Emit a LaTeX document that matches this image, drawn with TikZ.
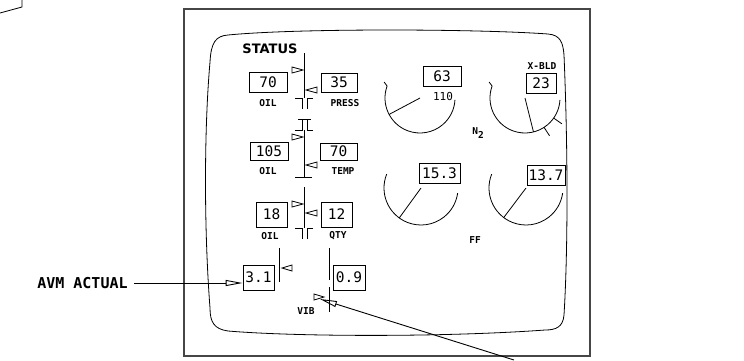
\documentclass[tikz,border=0pt]{standalone}
\usepackage{fontspec}
\setmainfont{DejaVu Sans Mono}
\newfontfamily\hdfont{DejaVu Sans}
\usetikzlibrary{arrows.meta,calc,positioning}
\definecolor{framegray}{RGB}{70,70,70}

\begin{document}
\begin{tikzpicture}[x=1pt, y=-1pt, line width=0.8pt,
  font=\fontsize{10}{10}\selectfont,
  numbox/.style={draw, inner sep=0pt, font=\fontsize{14.5}{14.5}\selectfont},
  lbl/.style={inner sep=1pt, font=\bfseries\fontsize{9.5}{10}\selectfont},
  lead/.style={-{Triangle[open, length=17pt, width=6pt]}, line width=0.9pt}]
\useasboundingbox (0,0) rectangle (744,360);
\draw (0,13) -- (22,7) -- (22,0);
% frame and screen
\draw[framegray, line width=1.2pt] (184,9) rectangle (590,356);
\draw (210,62) .. controls (211,42) and (216,36) .. (228,35)
  .. controls (300,28) and (480,29) .. (548,34)
  .. controls (560,35) and (563,42) .. (564,55)
  .. controls (568,150) and (568,250) .. (564,315)
  .. controls (563,327) and (556,330) .. (545,330)
  .. controls (450,337) and (300,337) .. (228,331)
  .. controls (214,329) and (210,322) .. (210,308)
  .. controls (204,230) and (204,130) .. (210,62);

% status column
\node[inner sep=0pt, font=\hdfont\bfseries\fontsize{13}{13}\selectfont] (status) at (270,49) {STATUS};
\draw (304,53) -- (304,98);
\draw (304,130) -- (304,177) (295,177) -- (312,177);
\draw (304,187) -- (304,228);
\foreach \y in {98,228}
  \draw (295,\y) -- (302,\y) -- (302,\y+11) (313,\y) -- (307,\y) -- (307,\y+11);
\draw (298,119) -- (311,119) (295,130) -- (302,130) -- (302,119) (313,130) -- (307,130) -- (307,119);
\foreach \y in {70,137,204}
  \draw (303,\y) -- ++(-11,-3) -- ++(0,6) -- cycle;
\foreach \y in {90,165,213}
  \draw (306,\y) -- ++(11,-3) -- ++(0,6) -- cycle;

\node[numbox, minimum width=38, minimum height=20] (oilpv) at (268,82) {70};
\node[numbox, minimum width=36, minimum height=19] (pressv) at (339,82.5) {35};
\node[lbl] (oilp) at (268,103) {OIL};
\node[lbl] (press) at (345,103) {PRESS};
\node[numbox, minimum width=38, minimum height=18] (oiltv) at (269,151) {105};
\node[numbox, minimum width=37, minimum height=17] (tempv) at (338.5,151.5) {70};
\node[lbl] (oilt) at (268,171) {OIL};
\node[lbl] (temp) at (343,171) {TEMP};
\node[numbox, minimum width=31, minimum height=25] (oilqv) at (271.5,214.5) {18};
\node[numbox, minimum width=31, minimum height=25] (qtyv) at (336.5,214.5) {12};
\node[lbl] (oilq) at (270,236) {OIL};
\node[lbl] (qty) at (338,236) {QTY};

% vibration
\draw (279,248) -- (279,282);
\draw (282,268) -- ++(10,-3) -- ++(0,6) -- cycle;
\draw (329,248) -- (329,280) (329,287) -- (329,312);
\draw (324,297) -- ++(-10,-3) -- ++(0,6) -- cycle;
\node[numbox, minimum width=31, minimum height=25] (avmv) at (258.5,277.5) {3.1};
\node[numbox, minimum width=32, minimum height=25] (vibv) at (349,277.5) {0.9};
\node[lbl] (vib) at (306,311) {VIB};

% gauges
\foreach \cx/\cy/\r/\s/\e/\nd in {420/98/35/160/357/208, 525/98/35/160/357/284,
                                   421/188/37/158/352/234, 526/188/37/158/352/233}{
  \draw (\cx,\cy) ++(-\s:\r) arc[start angle=-\s, end angle=-\e, radius=\r];
  \draw (\cx,\cy) -- ++(-\nd:\r);
}
\foreach \cx in {420,525}
  \draw (\cx,98) ++(-160:35) -- ++(-3,-4);
\foreach \a in {303,325}
  \draw ($(525,98)+(-\a:35)$) -- ($(525,98)+(-\a:45)$);
\node[numbox, minimum width=38, minimum height=20] (n2l) at (442,76) {63};
\node[inner sep=0pt, font=\fontsize{11}{11}\selectfont] (n2max) at (443,96) {110};
\node[lbl] (xbld) at (542,66) {X-BLD};
\node[numbox, minimum width=30, minimum height=20] (n2r) at (541,83) {23};
\node[lbl] (n2) at (478,133) {N\raisebox{-3.5pt}{2}};
\node[numbox, minimum width=41, minimum height=20] (ffl) at (439.5,173) {15.3};
\node[numbox, minimum width=38, minimum height=20] (ffr) at (546,175) {13.7};
\node[lbl] (ff) at (475,240) {FF};

% leaders
\node[inner sep=0pt, anchor=east, font=\bfseries\fontsize{15}{15}\selectfont] (avm) at (128,283) {AVM ACTUAL};
\draw[lead] (avm.east) ++(6,0) -- (avm.east -| avmv.west);
\coordinate (vibfoot) at (514,360);
\coordinate (vibtip) at (320,299);
\draw[lead] (vibfoot) -- (vibtip);
\end{tikzpicture}
\end{document}
